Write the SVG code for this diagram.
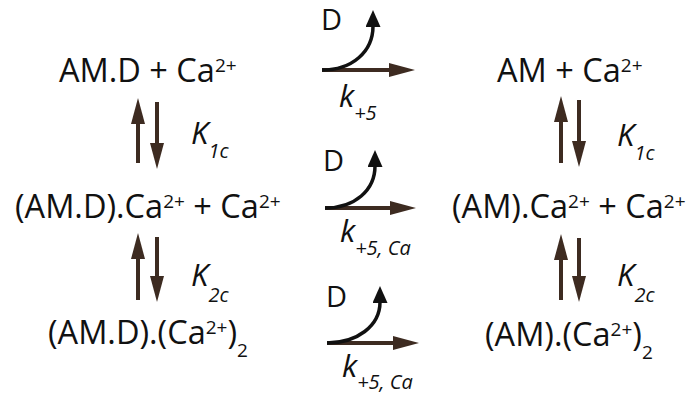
<svg xmlns="http://www.w3.org/2000/svg" width="691" height="396" viewBox="0 0 691 396">
<style>
.t{font-family:"Open Sans","Liberation Sans",sans-serif;font-size:32.5px;font-weight:380;fill:#111}
.sup{font-size:19px}
.d{font-family:"Open Sans","Liberation Sans",sans-serif;font-size:29px;font-weight:380;fill:#111}
.K{font-family:"Open Sans","Liberation Sans",sans-serif;font-size:31px;font-style:italic;font-weight:380;fill:#111}
.ks{font-size:20px}
.br{stroke:#3d2b21;stroke-width:4;fill:none}
.bk{stroke:#111;stroke-width:3.5;fill:none}
</style>
<defs>
<marker id="hb" markerUnits="userSpaceOnUse" markerWidth="26" markerHeight="14" viewBox="0 0 26 14" refX="1" refY="7" orient="auto">
<path d="M0,0 L26,7 L0,14 z" fill="#3d2b21"/>
</marker>
<marker id="hk" markerUnits="userSpaceOnUse" markerWidth="17" markerHeight="15" viewBox="0 0 17 15" refX="1" refY="7.5" orient="auto">
<path d="M0,0 L17,7.5 L0,15 z" fill="#111"/>
</marker>
</defs>
<g id="n1"><text class="t" x="59" y="82">AM.D + Ca<tspan class="sup" dy="-10">2+</tspan></text></g>
<g id="n2"><text class="t" x="497" y="82">AM + Ca<tspan class="sup" dy="-10">2+</tspan></text></g>
<g id="n3"><text class="t" x="15" y="218">(AM.D).Ca<tspan class="sup" dy="-10">2+</tspan><tspan dy="10"> + Ca</tspan><tspan class="sup" dy="-10">2+</tspan></text></g>
<g id="n4"><text class="t" x="452" y="218">(AM).Ca<tspan class="sup" dy="-10">2+</tspan><tspan dy="10"> + Ca</tspan><tspan class="sup" dy="-10">2+</tspan></text></g>
<g id="n5"><text class="t" x="48" y="344">(AM.D).(Ca<tspan class="sup" dy="-10">2+</tspan><tspan dy="10">)</tspan><tspan class="sup" dy="13">2</tspan></text></g>
<g id="n6"><text class="t" x="485" y="346">(AM).(Ca<tspan class="sup" dy="-10">2+</tspan><tspan dy="10">)</tspan><tspan class="sup" dy="13">2</tspan></text></g>
<g id="connectors">
<line class="br" x1="138" y1="163" x2="138" y2="123" marker-end="url(#hb)"/>
<line class="br" x1="157" y1="102" x2="157" y2="144" marker-end="url(#hb)"/>
<line class="br" x1="138" y1="300" x2="138" y2="258" marker-end="url(#hb)"/>
<line class="br" x1="157" y1="237" x2="157" y2="277" marker-end="url(#hb)"/>
<line class="br" x1="561" y1="163" x2="561" y2="121" marker-end="url(#hb)"/>
<line class="br" x1="579" y1="100" x2="579" y2="142" marker-end="url(#hb)"/>
<line class="br" x1="561" y1="300" x2="561" y2="259" marker-end="url(#hb)"/>
<line class="br" x1="579" y1="238" x2="579" y2="277" marker-end="url(#hb)"/>
<line class="br" x1="322" y1="70" x2="390" y2="70" marker-end="url(#hb)"/>
<line class="br" x1="325" y1="208" x2="391" y2="208" marker-end="url(#hb)"/>
<line class="br" x1="327" y1="343" x2="394" y2="343" marker-end="url(#hb)"/>
<path class="bk" d="M322,70 C352,70 373,52 373,26" marker-end="url(#hk)"/>
<path class="bk" d="M325,208 C355,208 375,190 375,166" marker-end="url(#hk)"/>
<path class="bk" d="M327,343 C357,343 380,326 380,302" marker-end="url(#hk)"/>
<text class="d" x="321" y="30">D</text>
<text class="d" x="323" y="171">D</text>
<text class="d" x="326" y="307">D</text>
<text class="K" x="339" y="107">k<tspan class="ks" dy="13">+5</tspan></text>
<text class="K" x="340" y="242">k<tspan class="ks" dy="13">+5, Ca</tspan></text>
<text class="K" x="342" y="377">k<tspan class="ks" dy="12">+5, Ca</tspan></text>
<text class="K" x="191" y="144">K<tspan class="ks" dy="14">1c</tspan></text>
<text class="K" x="191" y="286">K<tspan class="ks" dy="16">2c</tspan></text>
<text class="K" x="617" y="146">K<tspan class="ks" dy="14">1c</tspan></text>
<text class="K" x="617" y="286">K<tspan class="ks" dy="16">2c</tspan></text>
</g>
</svg>
